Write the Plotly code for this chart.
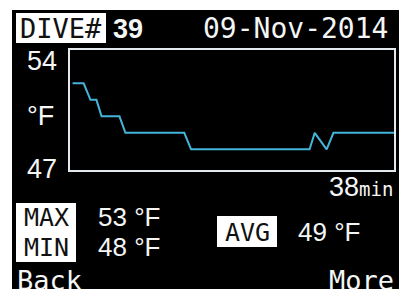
import plotly.graph_objects as go

# ---- data ----
time_min = [0.3, 1.6, 2.4, 3.1, 3.7, 5.8, 6.5, 13.4, 14.2, 28.1, 28.7, 30.1, 30.9, 38.0]
temp_f = [52, 52, 51, 51, 50, 50, 49, 49, 48, 48, 49, 48, 49, 49]
dive_no = "39"
dive_date = "09-Nov-2014"
y_top_label = "54"
y_bot_label = "47"
duration = "38"
max_t, min_t, avg_t = "53", "48", "49"

W, H = 399, 289
def px(x):
    return x / W
def py(y):
    return 1 - y / H

MONO = "DejaVu Sans Mono"
SANS = "Liberation Sans"
WHITE = "#f4f6f6"
LINE = "#45b4da"

fig = go.Figure()
fig.add_trace(go.Scatter(x=time_min, y=temp_f, mode="lines",
                         line=dict(color=LINE, width=2), hoverinfo="skip"))

shapes = [
    dict(type="rect", xref="paper", yref="paper", x0=px(12), x1=1.05, y0=-0.05, y1=py(10),
         fillcolor="black", line=dict(width=0), layer="below"),
    dict(type="rect", xref="paper", yref="paper", x0=px(16), x1=px(106), y0=py(43), y1=py(13),
         fillcolor="white", line=dict(width=0), layer="below"),
    dict(type="rect", xref="paper", yref="paper", x0=px(16), x1=px(76), y0=py(262), y1=py(203),
         fillcolor="white", line=dict(width=0), layer="below"),
    dict(type="rect", xref="paper", yref="paper", x0=px(217), x1=px(277), y0=py(247), y1=py(216),
         fillcolor="white", line=dict(width=0), layer="below"),
]

def ann(text, x, y, xa="center", size=26, color=WHITE, family=MONO, ya="middle", weight="normal"):
    return dict(text=text, x=px(x), y=py(y), xref="paper", yref="paper",
                xanchor=xa, yanchor=ya, showarrow=False,
                font=dict(family=family, size=size, color=color, weight=weight))

anns = [
    ann("DIVE#", 61, 29, size=27, color="#111111"),
    ann(dive_no, 111, 29, xa="left", size=27, family=SANS, weight="bold"),
    ann(dive_date, 390, 29, xa="right", size=28),
    ann(y_top_label, 42, 61, size=27, family=SANS),
    ann("°F", 40, 116, size=27, family=SANS),
    ann(y_bot_label, 42, 169, size=27, family=SANS),
    ann(duration + "<span style='font-size:19px;font-family:DejaVu Sans Mono'>min</span>", 395, 187, xa="right", size=27, family=SANS),
    ann("MAX", 46, 217, size=25, color="#111111"),
    ann("MIN", 46, 247, size=25, color="#111111"),
    ann(max_t + " °F", 96, 217, xa="left", size=26, family=SANS),
    ann(min_t + " °F", 96, 247, xa="left", size=26, family=SANS),
    ann("AVG", 247, 232, size=25, color="#111111"),
    ann(avg_t + " °F", 296, 232, xa="left", size=26, family=SANS),
    ann("Back", 15, 280, xa="left", size=27),
    ann("More", 396, 280, xa="right", size=27),
]

fig.update_layout(
    width=W, height=H, margin=dict(l=0, r=0, t=0, b=0),
    paper_bgcolor="white", plot_bgcolor="black", showlegend=False,
    shapes=shapes, annotations=anns,
    xaxis=dict(domain=[px(70), px(394)], range=[0, 38], showgrid=False, zeroline=False,
               showticklabels=False, ticks="", showline=True, mirror=True,
               linecolor="#e2e9ee", linewidth=2),
    yaxis=dict(domain=[py(170), py(50)], range=[46.75, 54.02], showgrid=False, zeroline=False,
               showticklabels=False, ticks="", showline=True, mirror=True,
               linecolor="#e2e9ee", linewidth=2),
)
fig.write_html("out.html", config=dict(displayModeBar=False),
               post_script="document.body.style.margin='0';"
                           "document.documentElement.style.overflow='hidden';")
